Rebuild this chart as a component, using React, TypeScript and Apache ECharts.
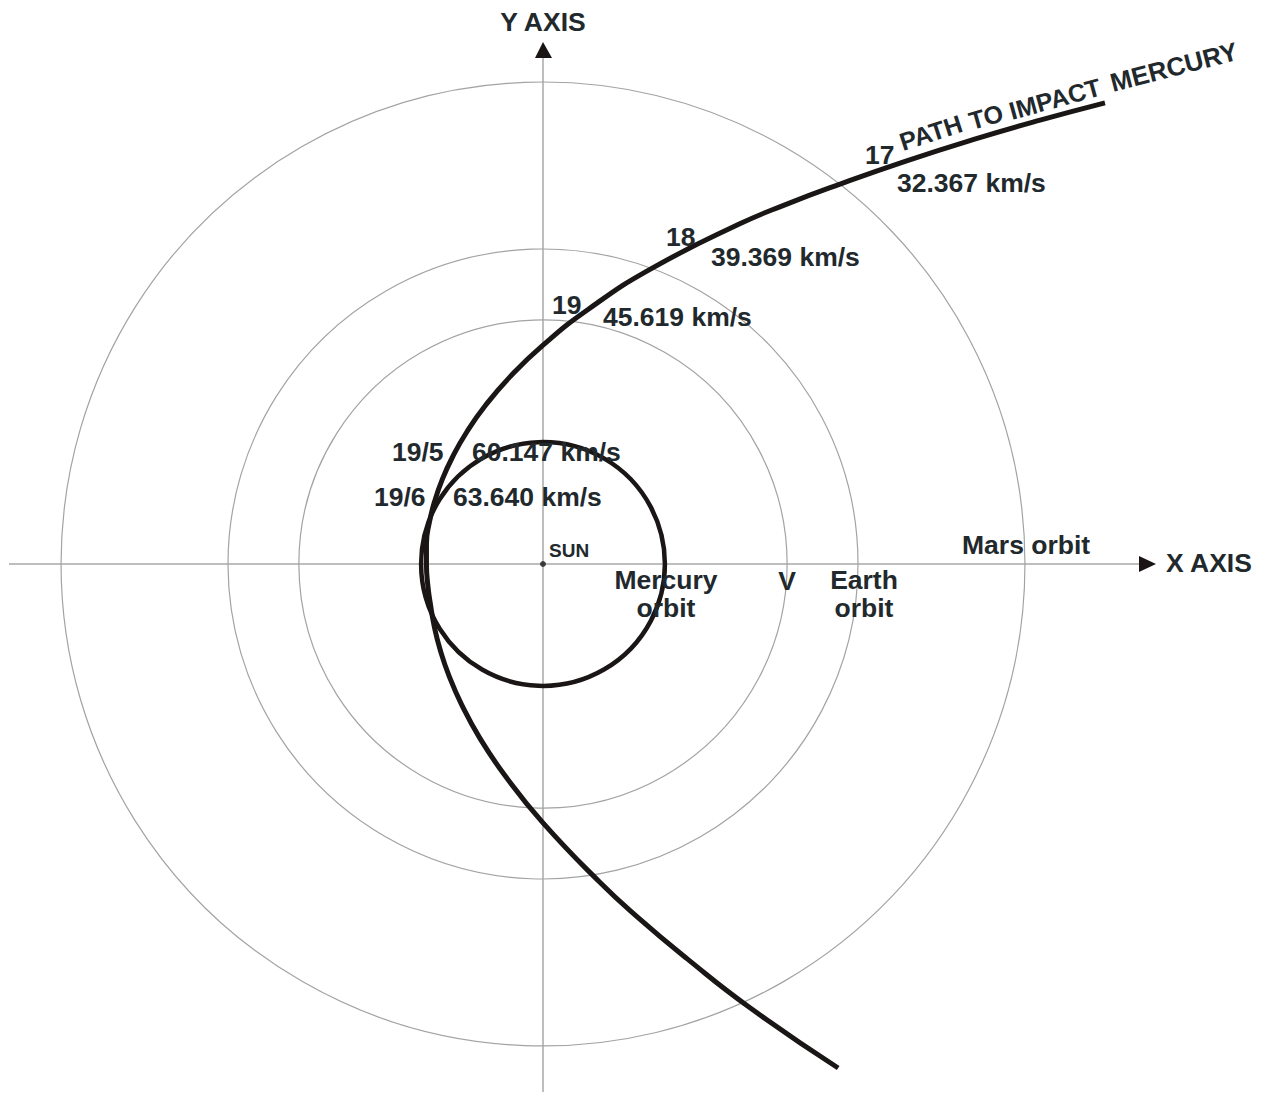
import React, { useEffect, useRef } from "react";
import * as echarts from "echarts";

// ---------- data (distances in AU, Sun at origin) ----------
const ORBIT_NAMES = ["Mercury", "Venus", "Earth", "Mars"];
const ORBIT_RADII_AU = [0.387, 0.775, 1.0, 1.53];

const TRAJECTORY_X = [
  1.784, 1.578, 1.365, 1.152, 0.943, 0.77, 0.623, 0.341, 0.143, 0.0, -0.105, -0.183, -0.242, -0.286,
  -0.32, -0.344, -0.361, -0.37, -0.37, -0.366, -0.357, -0.345, -0.326, -0.298, -0.258, -0.201, -0.119,
  0.0, 0.178, 0.3, 0.456, 0.656, 0.937,
];
const TRAJECTORY_Y = [
  1.464, 1.409, 1.347, 1.279, 1.206, 1.141, 1.079, 0.936, 0.808, 0.695, 0.594, 0.503, 0.419, 0.342,
  0.268, 0.199, 0.131, 0.065, 0.0, -0.064, -0.13, -0.199, -0.274, -0.356, -0.447, -0.552, -0.674,
  -0.822, -1.008, -1.121, -1.252, -1.408, -1.6,
];

const DAY_LABELS = ["17", "18", "19", "19/5", "19/6"];
const SPEED_LABELS = ["32.367 km/s", "39.369 km/s", "45.619 km/s", "60.147 km/s", "63.640 km/s"];
const PATH_WORDS = ["PATH", "TO", "IMPACT", "MERCURY"];

// ---------- layout ----------
const W = 1261;
const H = 1095;
const CX = 543; // Sun, pixels
const CY = 564;
const SCALE = 315; // pixels per AU

const TEXT_COLOR = "#22292d";
const LINE_COLOR = "#1b1616";
const FONT = '"Liberation Sans", Arial, Helvetica, sans-serif';

const DAY_POS = [
  [865, 155],
  [666, 237],
  [552, 305],
  [392, 452],
  [374, 497],
];
const SPEED_POS = [
  [897, 183],
  [711, 257],
  [603, 317],
  [472, 452],
  [453, 497],
];
// baseline-left point of each word, its angle in degrees, font size
const PATH_WORD_POS = [
  [903, 151, 18, 25],
  [972, 130, 16, 25],
  [1012, 120, 15.5, 25],
  [1113, 92, 14.5, 26],
];

export default function App() {
  const ref = useRef<HTMLDivElement>(null);

  useEffect(() => {
    document.body.style.margin = "0";
    const chart = echarts.init(ref.current!, null, { renderer: "svg" });

    const trajectory = TRAJECTORY_X.map((x, i) => [x, TRAJECTORY_Y[i]]);

    const txt = (
      text: string,
      x: number,
      y: number,
      opts: { size?: number; align?: string; weight?: string } = {}
    ) => ({
      type: "text",
      x,
      y,
      z: 100,
      silent: true,
      style: {
        text,
        x: 0,
        y: 0,
        fill: TEXT_COLOR,
        font: `${opts.weight ?? "bold"} ${opts.size ?? 26.5}px ${FONT}`,
        textAlign: opts.align ?? "left",
        textVerticalAlign: "middle",
      },
    });

    const axisStroke = { stroke: "#a9a9a9", lineWidth: 1.5 };

    const graphics: any[] = [
      // axes
      { type: "line", z: 0, silent: true, shape: { x1: 9, y1: CY, x2: 1140, y2: CY }, style: axisStroke },
      { type: "line", z: 0, silent: true, shape: { x1: CX, y1: 1092, x2: CX, y2: 57 }, style: axisStroke },
      {
        type: "polygon",
        z: 50,
        silent: true,
        shape: { points: [[1139, 556], [1156, CY], [1139, 572]] },
        style: { fill: "#1a1414" },
      },
      {
        type: "polygon",
        z: 50,
        silent: true,
        shape: { points: [[535, 58], [CX, 42], [552, 58]] },
        style: { fill: "#1a1414" },
      },
      txt("Y AXIS", CX, 22, { align: "center" }),
      txt("X AXIS", 1166, 563),
      txt("SUN", 549, 550, { size: 19 }),
      txt("Mercury", 666, 580, { align: "center" }),
      txt("orbit", 666, 608, { align: "center" }),
      txt("V", 787, 581, { align: "center" }),
      txt("Earth", 864, 580, { align: "center" }),
      txt("orbit", 864, 608, { align: "center" }),
      txt("Mars orbit", 962, 545),
    ];

    DAY_LABELS.forEach((t, i) => graphics.push(txt(t, DAY_POS[i][0], DAY_POS[i][1])));
    SPEED_LABELS.forEach((t, i) => graphics.push(txt(t, SPEED_POS[i][0], SPEED_POS[i][1])));
    PATH_WORDS.forEach((t, i) => {
      const [bx, by, deg, size] = PATH_WORD_POS[i];
      const a = (deg * Math.PI) / 180;
      const up = 9; // from baseline to mid-cap height
      const g: any = txt(t, bx - up * Math.sin(a), by - up * Math.cos(a), { size });
      g.rotation = a;
      graphics.push(g);
    });

    chart.setOption({
      animation: false,
      backgroundColor: "#ffffff",
      grid: { left: 0, right: 0, top: 0, bottom: 0 },
      xAxis: {
        type: "value",
        min: -CX / SCALE,
        max: (W - CX) / SCALE,
        show: false,
      },
      yAxis: {
        type: "value",
        min: -(H - CY) / SCALE,
        max: CY / SCALE,
        show: false,
      },
      series: [
        {
          type: "custom",
          name: "orbits",
          coordinateSystem: "cartesian2d",
          silent: true,
          z: 1,
          data: ORBIT_RADII_AU.map((r, i) => [0, 0, r, i]),
          encode: { x: 0, y: 1 },
          renderItem: (_params: any, api: any) => {
            const c = api.coord([api.value(0), api.value(1)]);
            const r = api.size([api.value(2), 0])[0];
            const mercury = ORBIT_NAMES[api.value(3)] === "Mercury";
            return {
              type: "circle",
              z2: mercury ? 10 : 0,
              shape: { cx: c[0], cy: c[1], r },
              style: {
                fill: "none",
                stroke: mercury ? LINE_COLOR : "#a3a3a3",
                lineWidth: mercury ? 4.5 : 1.2,
              },
            };
          },
        },
        {
          type: "line",
          name: "path",
          data: trajectory,
          smooth: 0.5,
          showSymbol: false,
          silent: true,
          z: 5,
          lineStyle: { color: LINE_COLOR, width: 5 },
        },
        {
          type: "scatter",
          name: "Sun",
          data: [[0, 0]],
          symbolSize: 6,
          silent: true,
          z: 6,
          itemStyle: { color: "#1a1a1a" },
        },
      ],
      graphic: graphics,
    });

    return () => chart.dispose();
  }, []);

  return (
    <div
      ref={ref}
      style={{ position: "absolute", left: 0, top: 0, width: W, height: H, background: "#fff" }}
    />
  );
}
